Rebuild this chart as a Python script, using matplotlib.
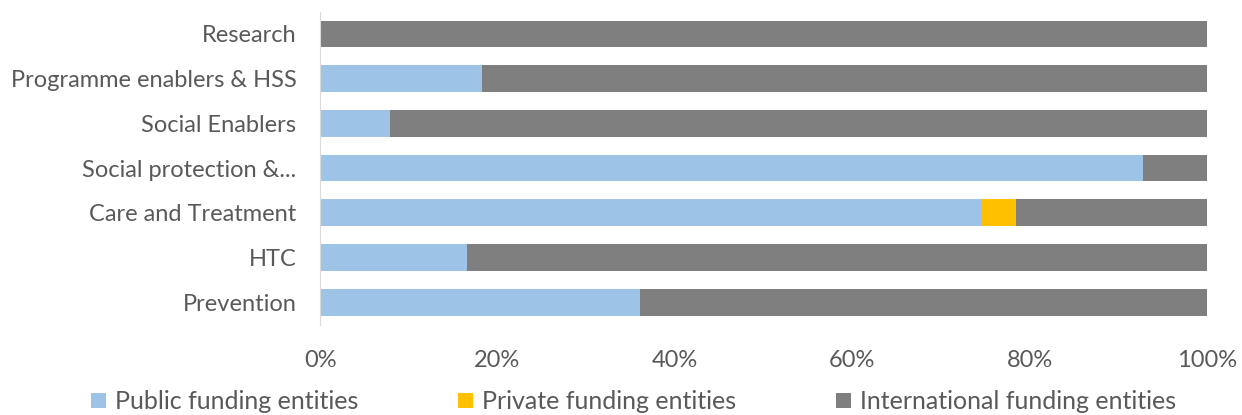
import numpy as np
import matplotlib.pyplot as plt
from matplotlib.ticker import PercentFormatter

categories = ["Prevention", "HTC", "Care and Treatment", "Social protection &...",
              "Social Enablers", "Programme enablers & HSS", "Research"]
public = [36.1, 16.6, 74.5, 92.8, 7.9, 18.3, 0.0]
private = [0.0, 0.0, 4.0, 0.0, 0.0, 0.0, 0.0]
international = [100 - a - b for a, b in zip(public, private)]

series = [("Public funding entities", public, "#9DC3E6"),
          ("Private funding entities", private, "#FFC000"),
          ("International funding entities", international, "#7F7F7F")]

plt.rcParams['font.family'] = ['Lato', 'DejaVu Sans']
text_col = "#595959"

fig = plt.figure(figsize=(12.42, 4.15), dpi=100)
ax = fig.add_axes([0.2577, 0.218, 0.7141, 0.754])

y = np.arange(len(categories))
left = np.zeros(len(categories))
for name, vals, col in series:
    ax.barh(y, vals, left=left, height=0.6, color=col, label=name)
    left += np.array(vals)

ax.set_xlim(0, 100)
ax.set_ylim(-0.5, len(categories) - 0.5)
ax.set_yticks(y)
ax.set_yticklabels(categories, fontsize=17, color=text_col)
ax.set_xticks(np.arange(0, 101, 20))
ax.xaxis.set_major_formatter(PercentFormatter(decimals=0))
ax.tick_params(axis='x', labelsize=17, colors=text_col, length=0, pad=18)
ax.tick_params(axis='y', length=0, pad=17)

for s in ["top", "right", "bottom"]:
    ax.spines[s].set_visible(False)
ax.spines["left"].set_color("#D9D9D9")

leg = fig.legend(loc="lower center", bbox_to_anchor=(0.51, -0.05), ncol=3,
                 frameon=False, fontsize=18, handlelength=0.6, handleheight=0.6,
                 handletextpad=0.35, columnspacing=4.0)
for t in leg.get_texts():
    t.set_color(text_col)

fig.savefig("out.png", dpi=100)
